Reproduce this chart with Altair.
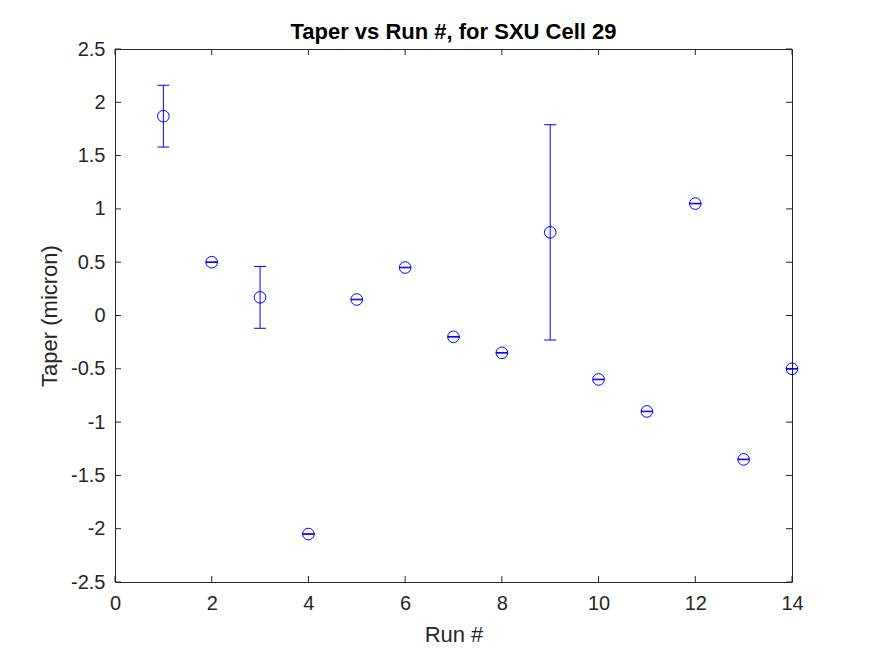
import altair as alt
import pandas as pd

runs = [1, 2, 3, 4, 5, 6, 7, 8, 9, 10, 11, 12, 13, 14]
taper = [1.87, 0.50, 0.17, -2.05, 0.15, 0.45, -0.20, -0.35, 0.78, -0.60, -0.90, 1.05, -1.35, -0.50]
err_lo = [1.58, 0.497, -0.12, -2.053, 0.147, 0.447, -0.203, -0.353, -0.23, -0.603, -0.903, 1.047, -1.353, -0.503]
err_hi = [2.16, 0.503, 0.46, -2.047, 0.153, 0.453, -0.197, -0.347, 1.79, -0.597, -0.897, 1.053, -1.347, -0.497]

x_ticks = [0, 2, 4, 6, 8, 10, 12, 14]
y_ticks = [-2.5, -2, -1.5, -1, -0.5, 0, 0.5, 1, 1.5, 2, 2.5]

W, H = 677, 533
AX = "#262626"
BLUE = "#0000ff"
FONT = "Liberation Sans"

df = pd.DataFrame({"run": runs, "taper": taper, "lo": err_lo, "hi": err_hi})
xt = pd.DataFrame({"v": x_ticks})
yt = pd.DataFrame({"v": y_ticks})

xscale = alt.Scale(domain=[0, 14], nice=False, zero=False)
yscale = alt.Scale(domain=[-2.5, 2.5], nice=False, zero=False)

xaxis = alt.Axis(values=x_ticks, title="Run #", labelFontSize=20, titleFontSize=22,
                 titleFontWeight="normal", labelColor=AX, titleColor=AX, ticks=False,
                 domain=False, grid=False, labelPadding=11, titlePadding=11,
                 labelFont=FONT, titleFont=FONT, labelFlush=False,
                 labelExpr="datum.value + ''")
yaxis = alt.Axis(values=y_ticks, title="Taper (micron)", labelFontSize=20, titleFontSize=22,
                 titleFontWeight="normal", labelColor=AX, titleColor=AX, ticks=False,
                 domain=False, grid=False, labelPadding=10, titlePadding=9,
                 labelFont=FONT, titleFont=FONT, labelFlush=False,
                 labelExpr="datum.value + ''")

base = alt.Chart(df)

points = base.mark_point(shape="circle", size=135, color=BLUE, strokeWidth=1, filled=False,
                         opacity=1).encode(
    x=alt.X("run:Q", scale=xscale, axis=xaxis),
    y=alt.Y("taper:Q", scale=yscale, axis=yaxis),
)
bars = base.mark_rule(color=BLUE, strokeWidth=1, opacity=1).encode(
    x=alt.X("run:Q", scale=xscale), y=alt.Y("lo:Q", scale=yscale), y2="hi:Q"
)
cap_lo = base.mark_tick(color=BLUE, orient="horizontal", size=12, thickness=1, opacity=1).encode(
    x=alt.X("run:Q", scale=xscale), y=alt.Y("lo:Q", scale=yscale)
)
cap_hi = base.mark_tick(color=BLUE, orient="horizontal", size=12, thickness=1, opacity=1).encode(
    x=alt.X("run:Q", scale=xscale), y=alt.Y("hi:Q", scale=yscale)
)

TL = 6
xb = alt.Chart(xt).mark_rule(color=AX, strokeWidth=1).encode(
    x=alt.X("v:Q", scale=xscale), y=alt.value(H), y2=alt.value(H - TL))
xtop = alt.Chart(xt).mark_rule(color=AX, strokeWidth=1).encode(
    x=alt.X("v:Q", scale=xscale), y=alt.value(0), y2=alt.value(TL))
yl = alt.Chart(yt).mark_rule(color=AX, strokeWidth=1).encode(
    y=alt.Y("v:Q", scale=yscale), x=alt.value(0), x2=alt.value(TL))
yr = alt.Chart(yt).mark_rule(color=AX, strokeWidth=1).encode(
    y=alt.Y("v:Q", scale=yscale), x=alt.value(W), x2=alt.value(W - TL))

chart = alt.layer(xb, xtop, yl, yr, bars, cap_lo, cap_hi, points).properties(
    width=W, height=H,
    title=alt.TitleParams("Taper vs Run #, for SXU Cell 29", fontSize=22, fontWeight="bold",
                          color="black", font=FONT, offset=-5, anchor="middle"),
    autosize=alt.AutoSizeParams(type="none"),
    padding={"left": 107, "top": 41, "right": 60, "bottom": 72},
).configure(background="white").configure_view(stroke=AX, strokeWidth=1)

chart.save("out.html", embed_options={"renderer": "svg", "actions": False})
